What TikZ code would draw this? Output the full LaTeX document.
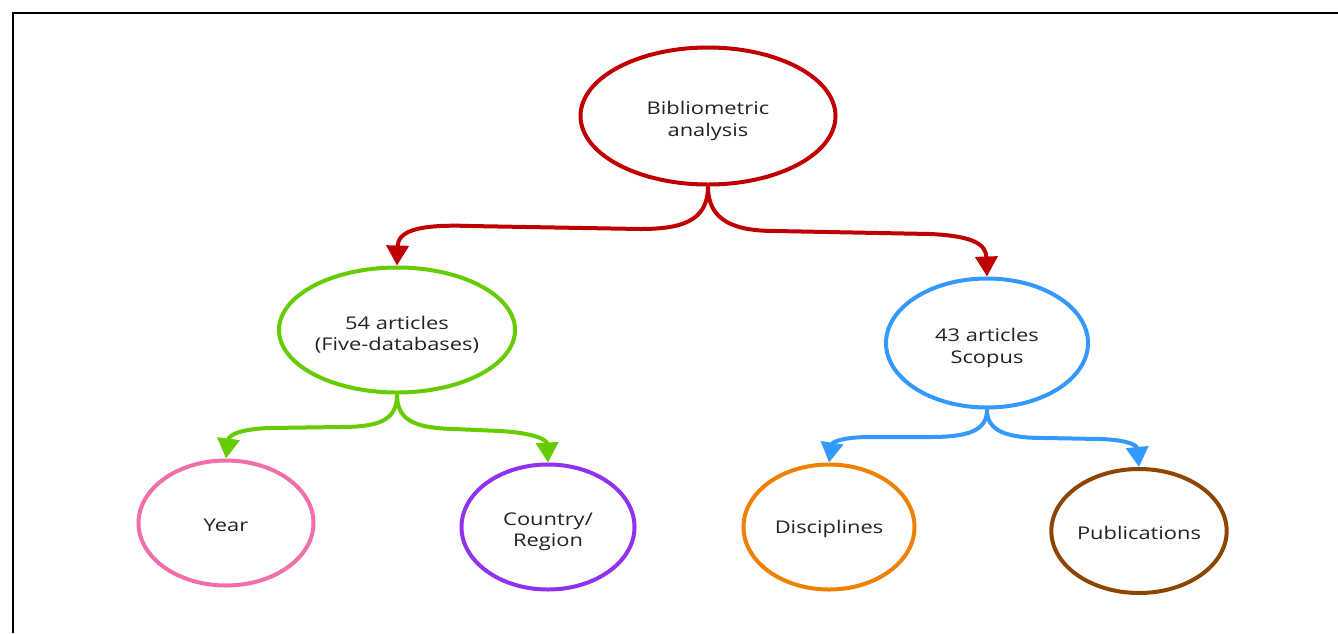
\documentclass[tikz,border=0pt]{standalone}
\usepackage{fontspec}
\setmainfont[FakeStretch=1.25]{Open Sans}
\usetikzlibrary{arrows.meta,shapes.geometric}
\definecolor{cred}{RGB}{192,0,0}
\definecolor{cgreen}{RGB}{102,204,0}
\definecolor{cblue}{RGB}{51,153,255}
\definecolor{cpink}{RGB}{240,110,170}
\definecolor{cpurple}{RGB}{145,50,240}
\definecolor{corange}{RGB}{240,128,0}
\definecolor{cbrown}{RGB}{140,70,0}
\definecolor{ctext}{RGB}{35,35,35}
\newcommand{\dn}[1]{\rule{0pt}{#1}}
\tikzset{
  bubble/.style={ellipse, draw, line width=4pt, inner sep=0pt, align=center,
    text=ctext, font=\fontsize{17.5}{21.5}\selectfont},
  conn/.style={line width=4pt, -{Triangle[length=20pt,width=22pt]}},
}
\begin{document}
\begin{tikzpicture}[x=1pt,y=-1pt]
\useasboundingbox (0,0) rectangle (1338,633);
\fill[white] (0,0) rectangle (1338,633);
\draw[line width=2.5pt] (13,633) -- (13,13) -- (1338,13);

\node[bubble, draw=cred, minimum width=255pt, minimum height=137pt] (top) at (708,116) {\dn{23pt}Bibliometric\\analysis};
\node[bubble, draw=cgreen, minimum width=236pt, minimum height=125pt] (l1) at (397,330) {\dn{23pt}54 articles\\(Five-databases)};
\node[bubble, draw=cblue, minimum width=202pt, minimum height=129pt] (r1) at (987,343) {\dn{23pt}43 articles\\Scopus};
\node[bubble, draw=cpink, minimum width=175pt, minimum height=125pt] (year) at (226,523) {\dn{18pt}Year};
\node[bubble, draw=cpurple, minimum width=173pt, minimum height=125pt] (country) at (548,527) {\dn{22pt}Country/\\Region};
\node[bubble, draw=corange, minimum width=171pt, minimum height=125pt] (disc) at (829,527) {\dn{18pt}Disciplines};
\node[bubble, draw=cbrown, minimum width=171pt, minimum height=124pt] (pub) at (1139,531) {\dn{18pt}Publications};

\draw[conn, cred] (top.south) .. controls (708,222) and (680,229) .. (640,229) -- (470,226) .. controls (415,224) and (398,232) .. (l1.north);
\draw[conn, cred] (top.south) .. controls (708,222) and (736,231) .. (776,231) -- (930,234) .. controls (975,236) and (986,245) .. (r1.north);

\draw[conn, cgreen] (l1.south) .. controls (397,420) and (380,427) .. (340,427) -- (270,428) .. controls (240,429) and (229,435) .. (year.north);
\draw[conn, cgreen] (l1.south) .. controls (397,420) and (414,428) .. (454,429) -- (500,431) .. controls (535,433) and (547,440) .. (country.north);

\draw[conn, cblue] (r1.south) .. controls (987,430) and (970,437) .. (930,437) -- (870,437) .. controls (840,437) and (832,443) .. (disc.north);
\draw[conn, cblue] (r1.south) .. controls (987,430) and (1004,438) .. (1044,438) -- (1100,439) .. controls (1130,440) and (1137,446) .. (pub.north);
\end{tikzpicture}
\end{document}
